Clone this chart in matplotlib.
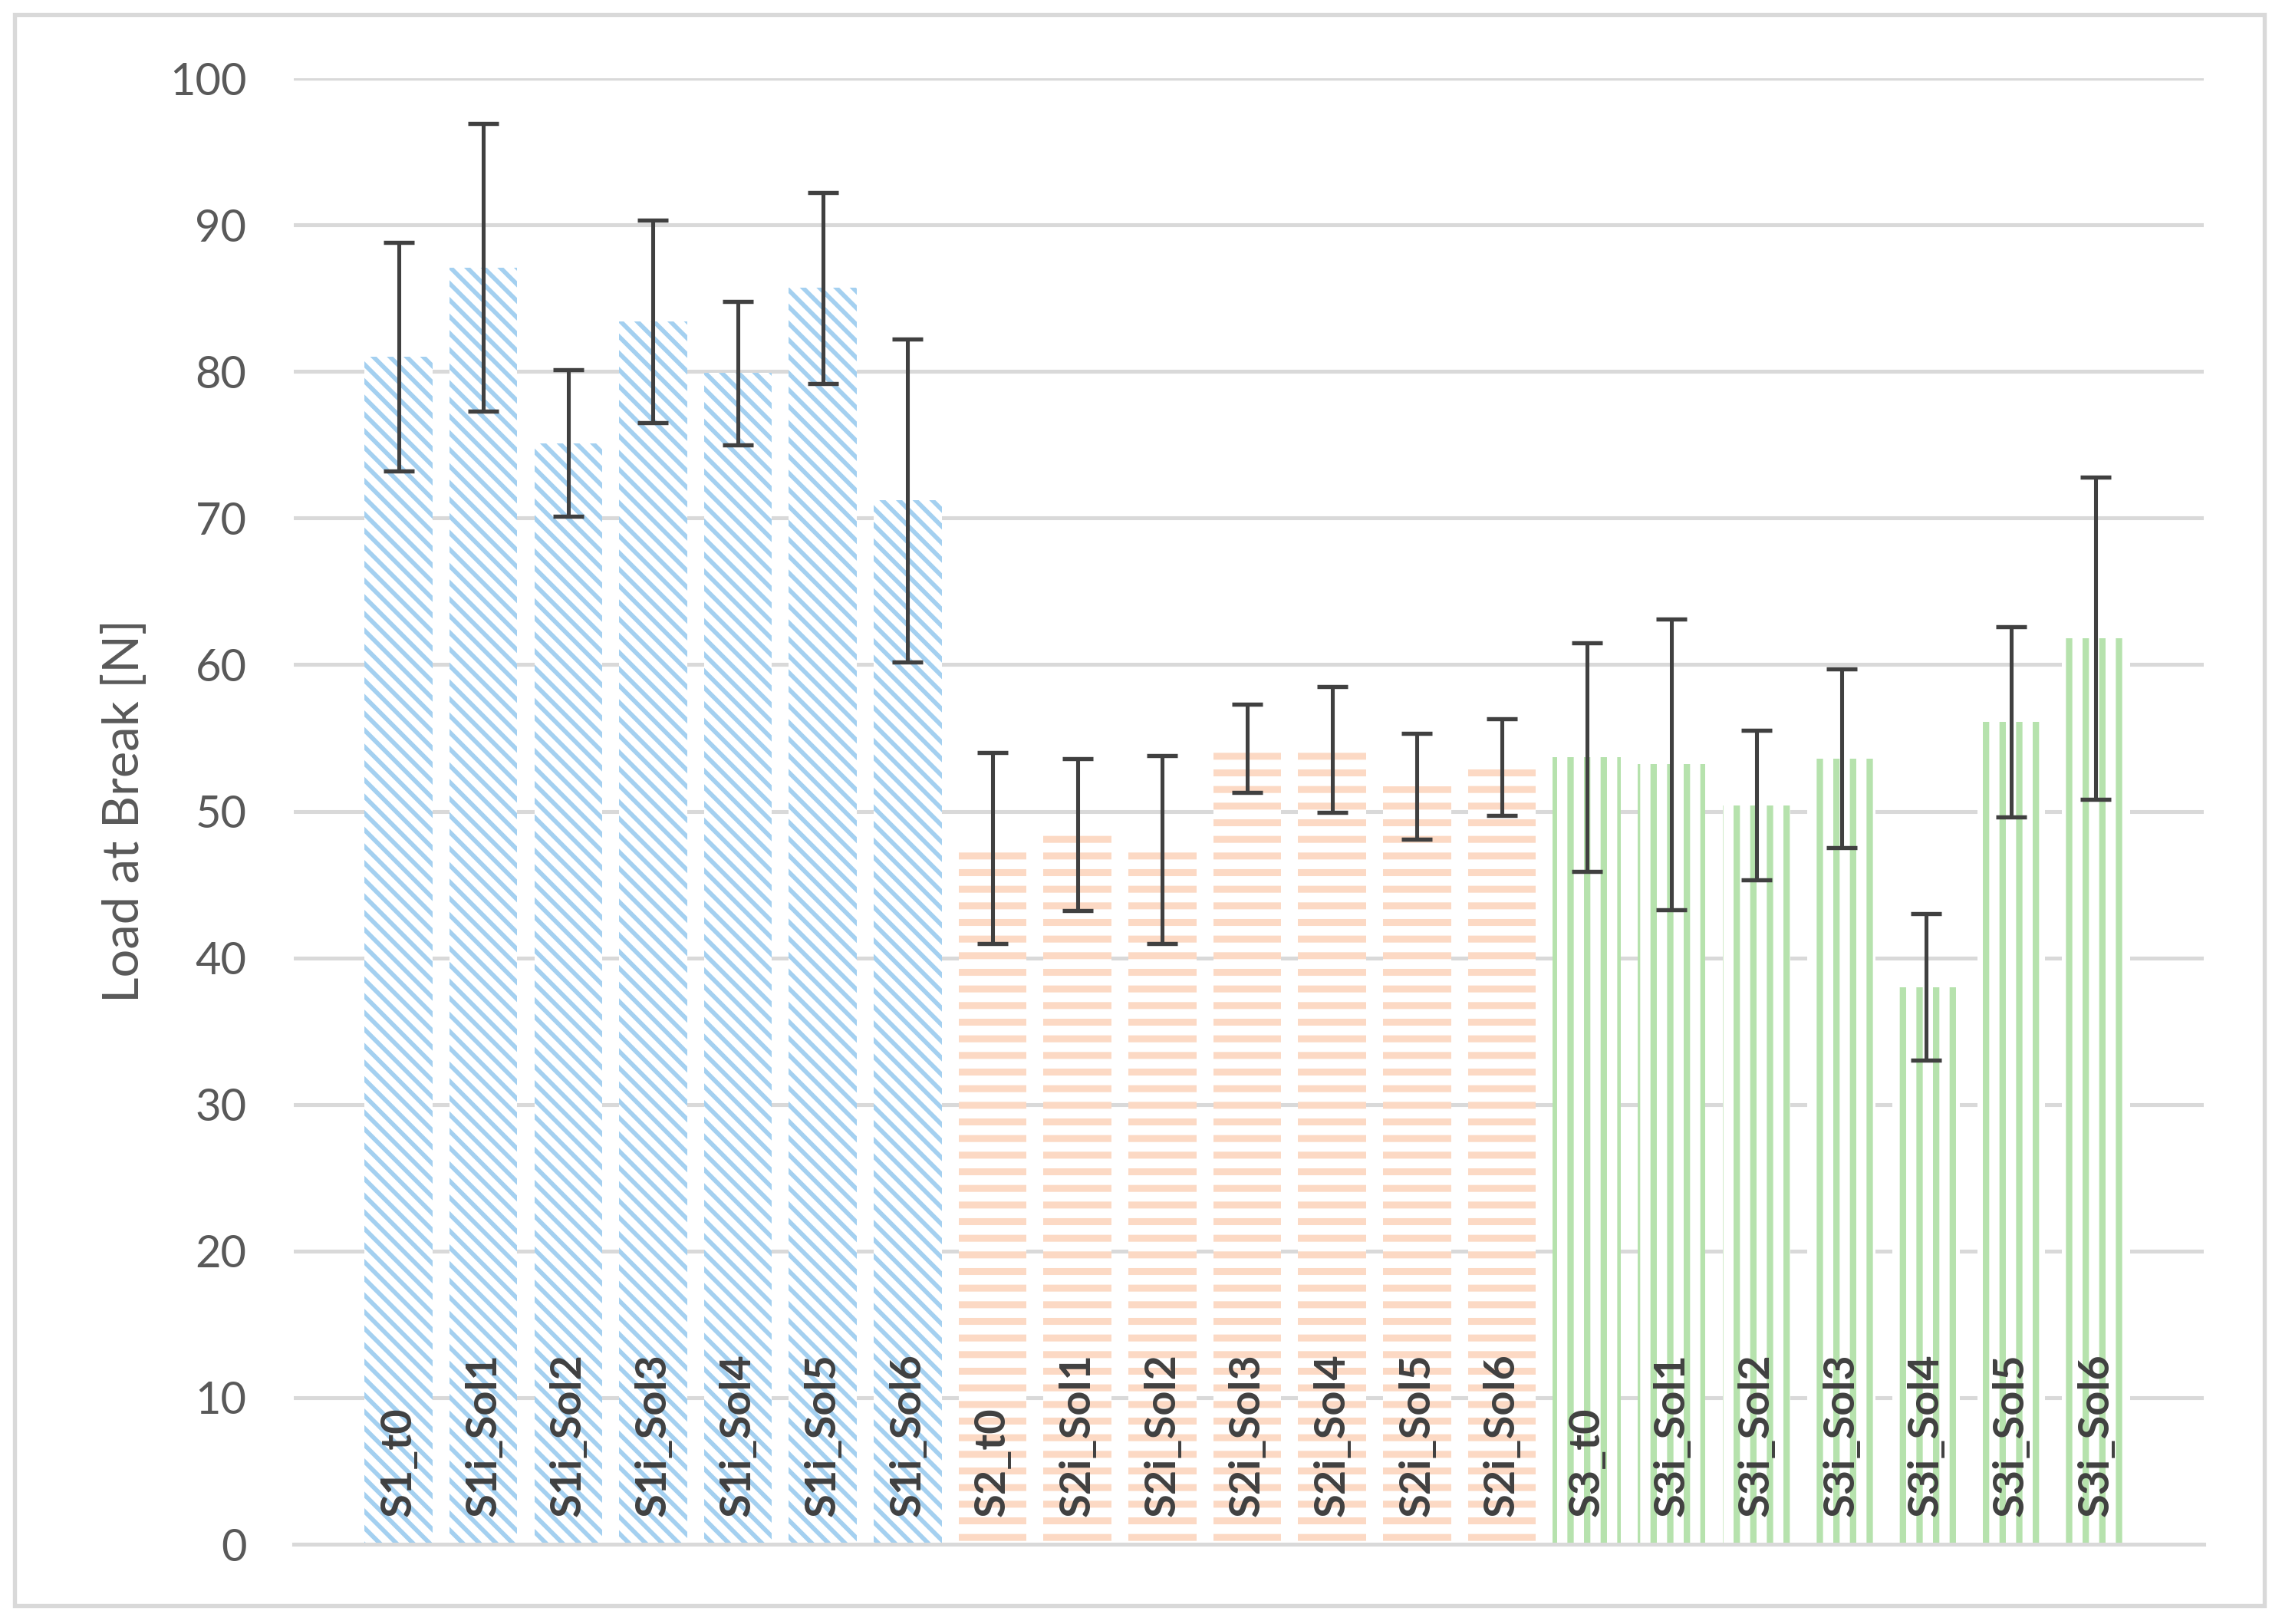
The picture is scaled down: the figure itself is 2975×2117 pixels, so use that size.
import matplotlib
matplotlib.use("Agg")
import matplotlib.pyplot as plt
from matplotlib.patches import Rectangle

categories = ["S1_t0", "S1i_Sol1", "S1i_Sol2", "S1i_Sol3", "S1i_Sol4", "S1i_Sol5", "S1i_Sol6",
              "S2_t0", "S2i_Sol1", "S2i_Sol2", "S2i_Sol3", "S2i_Sol4", "S2i_Sol5", "S2i_Sol6",
              "S3_t0", "S3i_Sol1", "S3i_Sol2", "S3i_Sol3", "S3i_Sol4", "S3i_Sol5", "S3i_Sol6"]
means = [81.0, 87.1, 75.1, 83.4, 79.9, 85.7, 71.2,
         47.5, 48.4, 47.4, 54.3, 54.2, 51.7, 53.0,
         53.7, 53.2, 50.4, 53.6, 38.0, 56.1, 61.8]
errors = [7.8, 9.8, 5.0, 6.9, 4.9, 6.5, 11.0,
          6.5, 5.2, 6.4, 3.0, 4.3, 3.6, 3.3,
          7.8, 9.9, 5.1, 6.1, 5.0, 6.5, 11.0]
groups = [0] * 7 + [1] * 7 + [2] * 7
group_colors = ["#a4d0f0", "#fcd9c4", "#b6e2ad"]
group_hatches = ["\\\\\\\\", "--", "||"]
group_hatch_lw = [1.6, 2.5, 2.3]

DPI = 260
fig = plt.figure(figsize=(2975 / DPI, 2117 / DPI), dpi=DPI)
ax = fig.add_axes([0.1287, 0.0491, 0.9657 - 0.1287, 0.9518 - 0.0491])

x = list(range(len(categories)))
for i in x:
    g = groups[i]
    with plt.rc_context({"hatch.linewidth": group_hatch_lw[g]}):
        bars = ax.bar(x[i], means[i], width=0.8, facecolor="white",
                      edgecolor=group_colors[g], linewidth=0,
                      hatch=group_hatches[g], zorder=2)
        for b in bars:
            if hasattr(b, "set_hatch_linewidth"):
                b.set_hatch_linewidth(group_hatch_lw[g])

ax.errorbar(x, means, yerr=errors, fmt="none", ecolor="#404040",
            elinewidth=1.4, capsize=5.5, capthick=1.5, zorder=3)

for i in x:
    ax.text(x[i], 1.9, categories[i], rotation=90, ha="center", va="bottom",
            fontsize=15.5, fontweight="bold", color="#404040",
            family="Lato", zorder=4)

ax.set_xlim(-1.235, 21.27)
ax.set_ylim(0, 100)
ax.set_yticks(range(0, 101, 10))
ax.set_xticks([])
ax.yaxis.grid(True, color="#d9d9d9", linewidth=1.4, zorder=0)
ax.set_axisbelow(True)
for s in ["top", "right", "left"]:
    ax.spines[s].set_visible(False)
ax.spines["bottom"].set_color("#d9d9d9")
ax.spines["bottom"].set_linewidth(1.4)
ax.tick_params(axis="y", length=0, pad=17, labelsize=16, labelcolor="#595959")
for lbl in ax.get_yticklabels():
    lbl.set_family("Lato")
ax.set_ylabel("Load at Break [N]", fontsize=18, color="#595959", family="Lato",
              labelpad=8)

fig.patches.append(Rectangle((19 / 2975, 1 - 2093 / 2117), (2952 - 19) / 2975,
                             (2093 - 19) / 2117, transform=fig.transFigure,
                             fill=False, edgecolor="#d9d9d9", linewidth=1.5))

fig.savefig("out.png", dpi=DPI)
